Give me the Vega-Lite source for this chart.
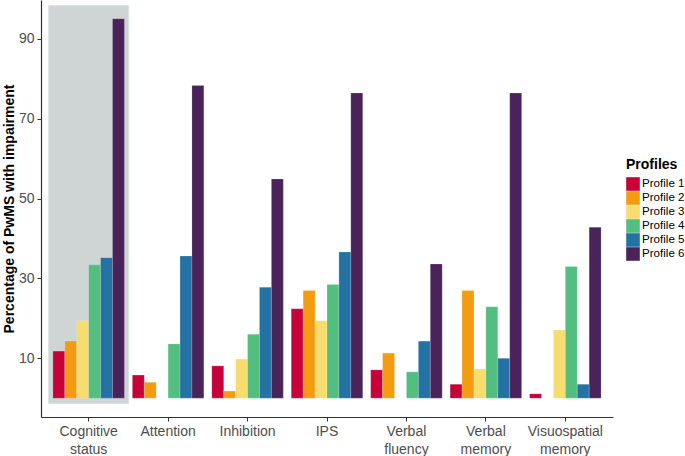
{
  "$schema": "https://vega.github.io/schema/vega-lite/v6.json",
  "width": 572,
  "height": 417,
  "autosize": {"type": "none"},
  "padding": {"left": 41, "top": 0, "right": 72, "bottom": 39},
  "background": "white",
  "config": {
    "font": "Liberation Sans",
    "view": {"stroke": null},
    "axis": {"grid": false, "domainColor": "#333333", "domainWidth": 1.2, "tickColor": "#333333", "tickSize": 4, "labelColor": "#4d4d4d", "labelFontSize": 14, "titleFontSize": 14, "titleFontWeight": "bold", "titleColor": "#000000"}
  },
  "datasets": {
    "bars": [
      {"domain": "Cognitive status", "profile": "Profile 1", "pct": 11.8},
      {"domain": "Cognitive status", "profile": "Profile 2", "pct": 14.3},
      {"domain": "Cognitive status", "profile": "Profile 3", "pct": 19.4},
      {"domain": "Cognitive status", "profile": "Profile 4", "pct": 33.4},
      {"domain": "Cognitive status", "profile": "Profile 5", "pct": 35.2},
      {"domain": "Cognitive status", "profile": "Profile 6", "pct": 95.0},
      {"domain": "Attention", "profile": "Profile 1", "pct": 5.8},
      {"domain": "Attention", "profile": "Profile 2", "pct": 4.0},
      {"domain": "Attention", "profile": "Profile 3", "pct": 0},
      {"domain": "Attention", "profile": "Profile 4", "pct": 13.6},
      {"domain": "Attention", "profile": "Profile 5", "pct": 35.6},
      {"domain": "Attention", "profile": "Profile 6", "pct": 78.3},
      {"domain": "Inhibition", "profile": "Profile 1", "pct": 8.1},
      {"domain": "Inhibition", "profile": "Profile 2", "pct": 1.8},
      {"domain": "Inhibition", "profile": "Profile 3", "pct": 9.8},
      {"domain": "Inhibition", "profile": "Profile 4", "pct": 16.0},
      {"domain": "Inhibition", "profile": "Profile 5", "pct": 27.8},
      {"domain": "Inhibition", "profile": "Profile 6", "pct": 54.9},
      {"domain": "IPS", "profile": "Profile 1", "pct": 22.4},
      {"domain": "IPS", "profile": "Profile 2", "pct": 27.0},
      {"domain": "IPS", "profile": "Profile 3", "pct": 19.4},
      {"domain": "IPS", "profile": "Profile 4", "pct": 28.5},
      {"domain": "IPS", "profile": "Profile 5", "pct": 36.6},
      {"domain": "IPS", "profile": "Profile 6", "pct": 76.4},
      {"domain": "Verbal fluency", "profile": "Profile 1", "pct": 7.1},
      {"domain": "Verbal fluency", "profile": "Profile 2", "pct": 11.3},
      {"domain": "Verbal fluency", "profile": "Profile 3", "pct": 0},
      {"domain": "Verbal fluency", "profile": "Profile 4", "pct": 6.6},
      {"domain": "Verbal fluency", "profile": "Profile 5", "pct": 14.3},
      {"domain": "Verbal fluency", "profile": "Profile 6", "pct": 33.6},
      {"domain": "Verbal memory", "profile": "Profile 1", "pct": 3.5},
      {"domain": "Verbal memory", "profile": "Profile 2", "pct": 27.0},
      {"domain": "Verbal memory", "profile": "Profile 3", "pct": 7.3},
      {"domain": "Verbal memory", "profile": "Profile 4", "pct": 22.9},
      {"domain": "Verbal memory", "profile": "Profile 5", "pct": 10.0},
      {"domain": "Verbal memory", "profile": "Profile 6", "pct": 76.4},
      {"domain": "Visuospatial memory", "profile": "Profile 1", "pct": 1.1},
      {"domain": "Visuospatial memory", "profile": "Profile 2", "pct": 0},
      {"domain": "Visuospatial memory", "profile": "Profile 3", "pct": 17.1},
      {"domain": "Visuospatial memory", "profile": "Profile 4", "pct": 33.0},
      {"domain": "Visuospatial memory", "profile": "Profile 5", "pct": 3.5},
      {"domain": "Visuospatial memory", "profile": "Profile 6", "pct": 42.8}
    ],
    "highlight": [
      {"domain": "Cognitive status", "lo": -1.3, "hi": 98.3}
    ]
  },
  "layer": [
    {
      "data": {"name": "highlight"},
      "mark": {"type": "bar", "fill": "#cfd5d5", "stroke": "#dde2e2", "strokeWidth": 1, "width": {"band": 1.12}},
      "encoding": {
        "x": {"field": "domain", "type": "nominal"},
        "y": {"field": "lo", "type": "quantitative"},
        "y2": {"field": "hi"}
      }
    },
    {
      "data": {"name": "bars"},
      "mark": {"type": "bar", "stroke": "#ffffff", "strokeWidth": 0.3, "strokeOpacity": 0.6},
      "encoding": {
        "x": {
          "field": "domain", "type": "nominal", "sort": null,
          "scale": {"domain": ["Cognitive status", "Attention", "Inhibition", "IPS", "Verbal fluency", "Verbal memory", "Visuospatial memory"], "paddingInner": 0.1, "paddingOuter": 0.15},
          "axis": {"title": null, "labelAngle": 0, "labelAlign": "center", "labelExpr": "split(datum.label, ' ')", "labelLineHeight": 18, "labelPadding": 3, "labelBaseline": "top"}
        },
        "xOffset": {"field": "profile", "type": "nominal", "sort": ["Profile 1", "Profile 2", "Profile 3", "Profile 4", "Profile 5", "Profile 6"]},
        "y": {
          "field": "pct", "type": "quantitative",
          "scale": {"domain": [-4.7, 99.7], "nice": false, "zero": false},
          "axis": {"title": "Percentage of PwMS with impairment", "values": [10, 30, 50, 70, 90], "titlePadding": 2, "labelPadding": 3}
        },
        "y2": {"datum": 0},
        "color": {
          "field": "profile", "type": "nominal",
          "scale": {"domain": ["Profile 1", "Profile 2", "Profile 3", "Profile 4", "Profile 5", "Profile 6"], "range": ["#c70039", "#f39c12", "#f7dc6f", "#52be80", "#2471a3", "#4a235a"]},
          "legend": {"title": "Profiles", "orient": "none", "legendX": 585, "legendY": 158, "titleFontSize": 14, "titleFontWeight": "bold", "titleColor": "#000000", "titlePadding": 5, "symbolType": "square", "symbolSize": 185, "symbolStrokeWidth": 0, "labelFontSize": 11.6, "labelColor": "#000000", "rowPadding": 0, "labelOffset": 2}
        }
      }
    }
  ]
}
